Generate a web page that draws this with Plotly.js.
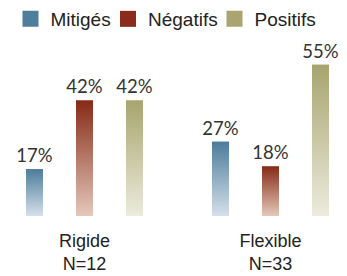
<!DOCTYPE html>
<html>
<head>
<meta charset="utf-8">
<script src="https://cdn.plot.ly/plotly-3.0.1.min.js"></script>
<style>html,body{margin:0;padding:0;background:#fff;}#chart{width:347px;height:276px;}</style>
</head>
<body>
<div id="chart"></div>
<script>
// Data
const groups = ["Rigide<br>N=12", "Flexible<br>N=33"];
const seriesNames = ["Mitigés", "Négatifs", "Positifs"];
const mitiges = [17, 27];
const negatifs = [42, 18];
const positifs = [42, 55];

// Styling
const seriesValues = [mitiges, negatifs, positifs];
const topColors = ["#4d7c9b", "#862a17", "#a8a46e"];
const bottomColors = ["#d5e0ea", "#e5c8ba", "#ecebdd"];
const legendColors = ["#4f7e9b", "#8b2b1b", "#a9a470"];
const groupCenters = [0, 3.72];
const offsets = [-1, 0, 1];
const barWidth = 0.34;
const legendX = [10.5, 108, 214.5];
const legendIds = ["legend", "legend2", "legend3"];

const traces = [];
// base bars (labels)
seriesValues.forEach((vals, s) => {
  traces.push({
    type: "bar",
    name: seriesNames[s],
    x: groupCenters.map(c => c + offsets[s]),
    y: vals,
    width: barWidth,
    marker: {color: legendColors[s], line: {width: 0}},
    text: vals.map(v => v + "%"),
    textposition: "outside",
    constraintext: "none",
    textfont: {family: "Lato, 'Open Sans', sans-serif", size: 18.5, color: "#333"},
    cliponaxis: false,
    showlegend: false,
    hoverinfo: "skip"
  });
});
// gradient overlays derived from the same data
seriesValues.forEach((vals, s) => {
  vals.forEach((v, g) => {
    const xc = groupCenters[g] + offsets[s];
    traces.push({
      type: "scatter",
      mode: "lines",
      x: [xc - barWidth/2, xc + barWidth/2, xc + barWidth/2, xc - barWidth/2, xc - barWidth/2],
      y: [0, 0, v, v, 0],
      fill: "toself",
      line: {width: 0, color: "rgba(0,0,0,0)"},
      fillgradient: {type: "vertical", colorscale: [[0, bottomColors[s]], [1, topColors[s]]]},
      showlegend: false,
      hoverinfo: "skip"
    });
  });
});
// legend entries
seriesNames.forEach((n, s) => {
  traces.push({
    type: "scatter", mode: "markers", name: n,
    x: [null], y: [null],
    legend: legendIds[s],
    marker: {symbol: "square", size: 16, color: legendColors[s]},
    showlegend: true, hoverinfo: "skip"
  });
});

const layout = {
  width: 347, height: 276,
  margin: {l: 0, r: 0, t: 0, b: 60},
  paper_bgcolor: "#fff", plot_bgcolor: "#fff",
  showlegend: true,
  barmode: "overlay",
  xaxis: {
    range: [-1.69, 5.25],
    tickvals: groupCenters,
    ticktext: groups,
    showgrid: false, zeroline: false, showline: false, ticks: "",
    ticklabelstandoff: 12,
    tickfont: {family: "'Liberation Sans', Arial, sans-serif", size: 18, color: "#222"},
    fixedrange: true
  },
  yaxis: {
    range: [0, 78.5],
    visible: false, showgrid: false, zeroline: false, fixedrange: true
  }
};
legendIds.forEach((id, s) => {
  layout[id] = {
    orientation: "h", x: legendX[s] / 347, y: 1.0, xanchor: "left", yanchor: "top",
    font: {family: "'Liberation Sans', Arial, sans-serif", size: 19, color: "#222"},
    itemwidth: 30, bgcolor: "rgba(0,0,0,0)"
  };
});

Plotly.newPlot("chart", traces, layout, {displayModeBar: false, staticPlot: true});
</script>
</body>
</html>
